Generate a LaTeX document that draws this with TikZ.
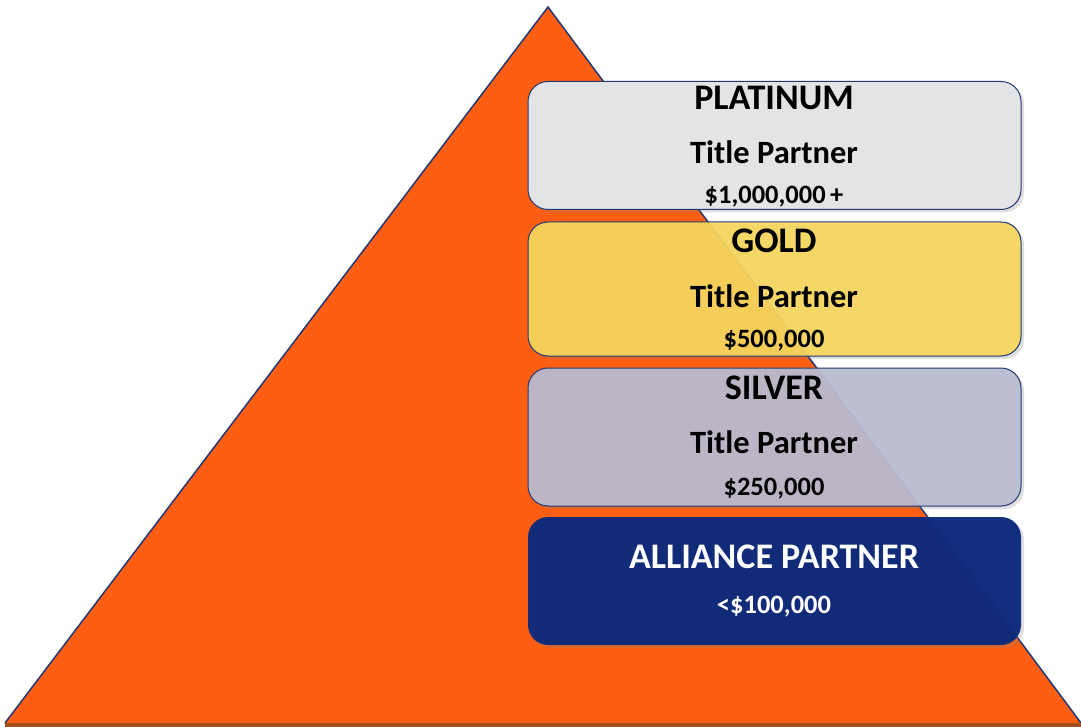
\documentclass[tikz,border=0pt]{standalone}
\usepackage{fontspec}
\setmainfont{Carlito}
\usetikzlibrary{shadows}
\definecolor{pyramidorange}{RGB}{254,94,18}
\definecolor{edgeblue}{RGB}{35,55,115}
\definecolor{platinumgray}{RGB}{226,228,230}
\definecolor{goldfill}{RGB}{246,215,92}
\definecolor{silverfill}{RGB}{186,188,210}
\definecolor{alliancefill}{RGB}{12,42,124}
\begin{document}
\begin{tikzpicture}[
        x=1pt, y=-1pt,
        tier/.style={rounded corners=20pt,draw=edgeblue,line width=1pt,
          minimum width=493pt,minimum height=129pt,inner sep=0pt,
          drop shadow={opacity=0.25,shadow xshift=3pt,shadow yshift=-3pt}},
        tiername/.style={font=\bfseries\fontsize{36}{36}\selectfont},
        tiertitle/.style={font=\bfseries\fontsize{32.5}{32.5}\selectfont},
        tieramount/.style={font=\bfseries\fontsize{26.5}{26.5}\selectfont}
        ]
        \useasboundingbox (0,0) rectangle (1081,727);

        % pyramid
        \coordinate (apex) at (548, 7);
        \coordinate (baseL) at (5, 723);
        \coordinate (baseR) at (1081, 723);
        \fill[pyramidorange] (apex) -- (baseL) -- (baseR) -- cycle;
        \draw[edgeblue,line width=1.5pt] (baseL) -- (apex) -- (baseR);
        \draw[black!40!pyramidorange!70!brown,line width=4pt] ([yshift=-2pt]baseL) -- ([yshift=-2pt]baseR);

        % tiers
        \node (platinum) at (774.5, 145.5) [tier,fill=platinumgray,
          minimum height=128pt] {};
        \node (gold) at (774.5, 289) [tier,fill=goldfill,fill opacity=0.92,
          minimum height=134pt] {};
        \node (silver) at (774.5, 437) [tier,fill=silverfill,fill opacity=0.93,
          minimum height=138pt] {};
        \node (alliance) at (774.5, 581) [tier,fill=alliancefill,fill opacity=0.97,
          draw=none,minimum height=128pt] {};

        % labels
        \node (platinumName) at (774, 98) [tiername] {PLATINUM};
        \node (platinumTitle) at (774, 152) [tiertitle] {Title Partner};
        \node (platinumAmount) at (774, 197) [tieramount] {\$1,000,000\,+};
        \node (goldName) at (774, 241) [tiername] {GOLD};
        \node (goldTitle) at (774, 296) [tiertitle] {Title Partner};
        \node (goldAmount) at (774, 341) [tieramount] {\$500,000};
        \node (silverName) at (774, 388) [tiername] {SILVER};
        \node (silverTitle) at (774, 442) [tiertitle] {Title Partner};
        \node (silverAmount) at (774, 489) [tieramount] {\$250,000};
        \node (allianceName) at (774, 557) [tiername,white] {ALLIANCE PARTNER};
        \node (allianceAmount) at (774, 607) [tieramount,white] {<\$100,000};
      \end{tikzpicture}
\end{document}
